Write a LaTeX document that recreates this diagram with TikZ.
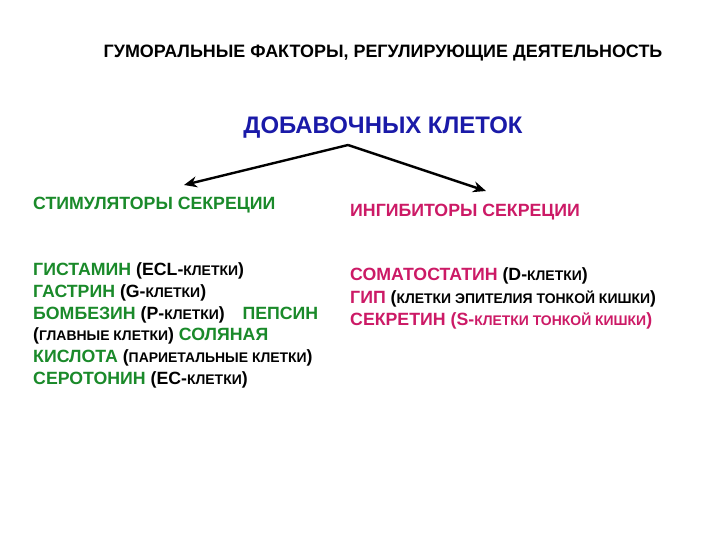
\documentclass[tikz,border=0pt]{standalone}
\usepackage{fontspec}
\usetikzlibrary{arrows.meta}
\setmainfont{Liberation Sans}
\definecolor{tgreen}{HTML}{1A8A2A}
\definecolor{tpink}{HTML}{CC1A66}
\definecolor{tblue}{HTML}{1A1AA8}
\newcommand{\sk}[1]{{\fontsize{14}{15}\selectfont #1}}
\newcommand{\gr}[1]{\textcolor{tgreen}{#1}}
\newcommand{\pk}[1]{\textcolor{tpink}{#1}}
\begin{document}
\begin{tikzpicture}[x=1bp,y=-1bp,
  txt/.style={anchor=base west,inner sep=0pt,font=\fontsize{17.8}{20}\selectfont\bfseries},
  arr/.style={-{Stealth[length=13bp,width=11bp]},line width=2.4bp,black}]
\useasboundingbox[fill=white] (0,0) rectangle (720,540);
\node[txt,anchor=base,font=\fontsize{18}{20}\selectfont\bfseries] (title) at (383,58) {ГУМОРАЛЬНЫЕ ФАКТОРЫ, РЕГУЛИРУЮЩИЕ ДЕЯТЕЛЬНОСТЬ};
\node[txt,anchor=base,font=\fontsize{24}{26}\selectfont\bfseries,text=tblue] (head) at (383,134) {ДОБАВОЧНЫХ КЛЕТОК};
\coordinate (apex) at (348,145);
\coordinate (ltip) at (184,185);
\coordinate (rtip) at (486,191);
\draw[arr] (apex) -- (ltip);
\draw[arr] (apex) -- (rtip);
\node[txt,text=tgreen] (stim) at (33,210) {СТИМУЛЯТОРЫ СЕКРЕЦИИ};
\node[txt,text=tpink] (inh) at (350,217) {ИНГИБИТОРЫ СЕКРЕЦИИ};
\node[txt] (l1) at (33,276) {\gr{ГИСТАМИН} (ECL-\sk{КЛЕТКИ})};
\node[txt] (l2) at (33,297) {\gr{ГАСТРИН} (G-\sk{КЛЕТКИ})};
\node[txt] (l3) at (33,319) {\hbox to 285bp{\gr{БОМБЕЗИН} (P-\sk{КЛЕТКИ})\hfill\gr{ПЕПСИН}}};
\node[txt] (l4) at (33,340) {(\sk{ГЛАВНЫЕ КЛЕТКИ}) \gr{СОЛЯНАЯ}};
\node[txt] (l5) at (33,362) {\gr{КИСЛОТА} (\sk{ПАРИЕТАЛЬНЫЕ КЛЕТКИ})};
\node[txt] (l6) at (33,384) {\gr{СЕРОТОНИН} (EC-\sk{КЛЕТКИ})};
\node[txt] (r1) at (350,281) {\pk{СОМАТОСТАТИН} (D-\sk{КЛЕТКИ})};
\node[txt] (r2) at (350,303) {\pk{ГИП} (\sk{КЛЕТКИ ЭПИТЕЛИЯ ТОНКОЙ КИШКИ})};
\node[txt] (r3) at (350,325) {\pk{СЕКРЕТИН (S-\sk{КЛЕТКИ ТОНКОЙ КИШКИ})}};
\end{tikzpicture}
\end{document}
